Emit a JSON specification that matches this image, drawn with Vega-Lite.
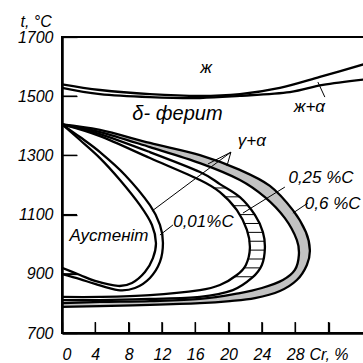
{
  "$schema": "https://vega.github.io/schema/vega-lite/v6.json",
  "width": 304,
  "height": 296,
  "autosize": {"type": "none"},
  "padding": {"left": 62, "top": 37, "right": 0, "bottom": 30},
  "background": "white",
  "config": {
    "view": {"stroke": "black", "strokeWidth": 2}
  },
  "datasets": {
    "curves": [
      {"c": "Lu", "i": 0, "x": 0, "t": 1540}, {"c": "Lu", "i": 1, "x": 4.56, "t": 1521}, {"c": "Lu", "i": 2, "x": 10.56, "t": 1507}, {"c": "Lu", "i": 3, "x": 16.56, "t": 1501}, {"c": "Lu", "i": 4, "x": 21.36, "t": 1507}, {"c": "Lu", "i": 5, "x": 26.16, "t": 1528}, {"c": "Lu", "i": 6, "x": 30.96, "t": 1565}, {"c": "Lu", "i": 7, "x": 36.5, "t": 1610},
      {"c": "Ls", "i": 0, "x": 0, "t": 1528}, {"c": "Ls", "i": 1, "x": 4.56, "t": 1507}, {"c": "Ls", "i": 2, "x": 10.56, "t": 1497}, {"c": "Ls", "i": 3, "x": 16.56, "t": 1494}, {"c": "Ls", "i": 4, "x": 21.36, "t": 1501}, {"c": "Ls", "i": 5, "x": 27.36, "t": 1514}, {"c": "Ls", "i": 6, "x": 31.32, "t": 1538}, {"c": "Ls", "i": 7, "x": 36.5, "t": 1557},
      {"c": "Ai", "i": 0, "x": 0, "t": 1405}, {"c": "Ai", "i": 1, "x": 2.16, "t": 1352}, {"c": "Ai", "i": 2, "x": 4.56, "t": 1291}, {"c": "Ai", "i": 3, "x": 6.96, "t": 1217}, {"c": "Ai", "i": 4, "x": 9.36, "t": 1132}, {"c": "Ai", "i": 5, "x": 10.8, "t": 1065}, {"c": "Ai", "i": 6, "x": 11.28, "t": 1004}, {"c": "Ai", "i": 7, "x": 10.92, "t": 953}, {"c": "Ai", "i": 8, "x": 9.96, "t": 906}, {"c": "Ai", "i": 9, "x": 8.4, "t": 869}, {"c": "Ai", "i": 10, "x": 6.72, "t": 859}, {"c": "Ai", "i": 11, "x": 3.96, "t": 876}, {"c": "Ai", "i": 12, "x": 2.16, "t": 896}, {"c": "Ai", "i": 13, "x": 0, "t": 920},
      {"c": "Ao", "i": 0, "x": 0, "t": 1405}, {"c": "Ao", "i": 1, "x": 2.16, "t": 1362}, {"c": "Ao", "i": 2, "x": 4.56, "t": 1311}, {"c": "Ao", "i": 3, "x": 7.56, "t": 1234}, {"c": "Ao", "i": 4, "x": 10.56, "t": 1132}, {"c": "Ao", "i": 5, "x": 11.76, "t": 1065}, {"c": "Ao", "i": 6, "x": 12.12, "t": 1004}, {"c": "Ao", "i": 7, "x": 11.76, "t": 940}, {"c": "Ao", "i": 8, "x": 10.56, "t": 886}, {"c": "Ao", "i": 9, "x": 8.76, "t": 852}, {"c": "Ao", "i": 10, "x": 6.72, "t": 845}, {"c": "Ao", "i": 11, "x": 3.96, "t": 866}, {"c": "Ao", "i": 12, "x": 2.16, "t": 882}, {"c": "Ao", "i": 13, "x": 0, "t": 899},
      {"c": "Bi", "i": 0, "x": 0, "t": 1405}, {"c": "Bi", "i": 1, "x": 4.56, "t": 1365}, {"c": "Bi", "i": 2, "x": 10.56, "t": 1291}, {"c": "Bi", "i": 3, "x": 16.56, "t": 1217}, {"c": "Bi", "i": 4, "x": 18.96, "t": 1176}, {"c": "Bi", "i": 5, "x": 21, "t": 1115}, {"c": "Bi", "i": 6, "x": 22.2, "t": 1048}, {"c": "Bi", "i": 7, "x": 22.56, "t": 987}, {"c": "Bi", "i": 8, "x": 22.08, "t": 930}, {"c": "Bi", "i": 9, "x": 21, "t": 896}, {"c": "Bi", "i": 10, "x": 18.96, "t": 862}, {"c": "Bi", "i": 11, "x": 16.56, "t": 845}, {"c": "Bi", "i": 12, "x": 10.56, "t": 828}, {"c": "Bi", "i": 13, "x": 4.56, "t": 822}, {"c": "Bi", "i": 14, "x": 0, "t": 822},
      {"c": "Bo", "i": 0, "x": 0, "t": 1405}, {"c": "Bo", "i": 1, "x": 4.56, "t": 1372}, {"c": "Bo", "i": 2, "x": 10.56, "t": 1311}, {"c": "Bo", "i": 3, "x": 16.56, "t": 1244}, {"c": "Bo", "i": 4, "x": 18.96, "t": 1203}, {"c": "Bo", "i": 5, "x": 21.36, "t": 1159}, {"c": "Bo", "i": 6, "x": 23.16, "t": 1099}, {"c": "Bo", "i": 7, "x": 24.12, "t": 1041}, {"c": "Bo", "i": 8, "x": 24.36, "t": 987}, {"c": "Bo", "i": 9, "x": 24, "t": 930}, {"c": "Bo", "i": 10, "x": 22.8, "t": 886}, {"c": "Bo", "i": 11, "x": 20.52, "t": 845}, {"c": "Bo", "i": 12, "x": 16.56, "t": 822}, {"c": "Bo", "i": 13, "x": 10.56, "t": 815}, {"c": "Bo", "i": 14, "x": 4.56, "t": 811}, {"c": "Bo", "i": 15, "x": 0, "t": 811},
      {"c": "Ci", "i": 0, "x": 0, "t": 1405}, {"c": "Ci", "i": 1, "x": 4.56, "t": 1379}, {"c": "Ci", "i": 2, "x": 10.56, "t": 1328}, {"c": "Ci", "i": 3, "x": 16.56, "t": 1274}, {"c": "Ci", "i": 4, "x": 21.36, "t": 1217}, {"c": "Ci", "i": 5, "x": 24.36, "t": 1159}, {"c": "Ci", "i": 6, "x": 26.76, "t": 1088}, {"c": "Ci", "i": 7, "x": 28.2, "t": 1014}, {"c": "Ci", "i": 8, "x": 28.44, "t": 963}, {"c": "Ci", "i": 9, "x": 27.96, "t": 913}, {"c": "Ci", "i": 10, "x": 26.52, "t": 879}, {"c": "Ci", "i": 11, "x": 24, "t": 852}, {"c": "Ci", "i": 12, "x": 21.36, "t": 835}, {"c": "Ci", "i": 13, "x": 16.56, "t": 815}, {"c": "Ci", "i": 14, "x": 10.56, "t": 808}, {"c": "Ci", "i": 15, "x": 4.56, "t": 805}, {"c": "Ci", "i": 16, "x": 0, "t": 801},
      {"c": "Co", "i": 0, "x": 0, "t": 1405}, {"c": "Co", "i": 1, "x": 4.56, "t": 1386}, {"c": "Co", "i": 2, "x": 10.56, "t": 1342}, {"c": "Co", "i": 3, "x": 16.56, "t": 1301}, {"c": "Co", "i": 4, "x": 21.36, "t": 1251}, {"c": "Co", "i": 5, "x": 24.96, "t": 1197}, {"c": "Co", "i": 6, "x": 27.72, "t": 1115}, {"c": "Co", "i": 7, "x": 29.28, "t": 1041}, {"c": "Co", "i": 8, "x": 29.76, "t": 980}, {"c": "Co", "i": 9, "x": 29.4, "t": 930}, {"c": "Co", "i": 10, "x": 28.2, "t": 879}, {"c": "Co", "i": 11, "x": 26.16, "t": 842}, {"c": "Co", "i": 12, "x": 23.16, "t": 818}, {"c": "Co", "i": 13, "x": 20.16, "t": 808}, {"c": "Co", "i": 14, "x": 16.56, "t": 801}, {"c": "Co", "i": 15, "x": 10.56, "t": 795}, {"c": "Co", "i": 16, "x": 4.56, "t": 791}, {"c": "Co", "i": 17, "x": 0, "t": 788}
    ],
    "cband": [
      {"i": 0, "x": 0, "t": 1405}, {"i": 1, "x": 4.56, "t": 1386}, {"i": 2, "x": 10.56, "t": 1342}, {"i": 3, "x": 16.56, "t": 1301}, {"i": 4, "x": 21.36, "t": 1251}, {"i": 5, "x": 24.96, "t": 1197}, {"i": 6, "x": 27.72, "t": 1115}, {"i": 7, "x": 29.28, "t": 1041}, {"i": 8, "x": 29.76, "t": 980}, {"i": 9, "x": 29.4, "t": 930}, {"i": 10, "x": 28.2, "t": 879}, {"i": 11, "x": 26.16, "t": 842}, {"i": 12, "x": 23.16, "t": 818}, {"i": 13, "x": 20.16, "t": 808}, {"i": 14, "x": 16.56, "t": 801}, {"i": 15, "x": 10.56, "t": 795}, {"i": 16, "x": 4.56, "t": 791}, {"i": 17, "x": 0, "t": 788},
      {"i": 18, "x": 0, "t": 801}, {"i": 19, "x": 4.56, "t": 805}, {"i": 20, "x": 10.56, "t": 808}, {"i": 21, "x": 16.56, "t": 815}, {"i": 22, "x": 21.36, "t": 835}, {"i": 23, "x": 24, "t": 852}, {"i": 24, "x": 26.52, "t": 879}, {"i": 25, "x": 27.96, "t": 913}, {"i": 26, "x": 28.44, "t": 963}, {"i": 27, "x": 28.2, "t": 1014}, {"i": 28, "x": 26.76, "t": 1088}, {"i": 29, "x": 24.36, "t": 1159}, {"i": 30, "x": 21.36, "t": 1217}, {"i": 31, "x": 16.56, "t": 1274}, {"i": 32, "x": 10.56, "t": 1328}, {"i": 33, "x": 4.56, "t": 1379}
    ],
    "hatch": [
      {"t": 1190, "x": 18.14, "x2": 19.68}, {"t": 1160, "x": 19.5, "x2": 21.34}, {"t": 1130, "x": 20.5, "x2": 22.23}, {"t": 1100, "x": 21.27, "x2": 23.14}, {"t": 1070, "x": 21.8, "x2": 23.64}, {"t": 1040, "x": 22.25, "x2": 24.12}, {"t": 1010, "x": 22.42, "x2": 24.26}, {"t": 980, "x": 22.5, "x2": 24.35}, {"t": 950, "x": 22.39, "x2": 24.13}, {"t": 920, "x": 21.76, "x2": 23.73}, {"t": 890, "x": 20.64, "x2": 22.9}
    ],
    "leaders": [
      {"x": 20.28, "t": 1311, "x2": 10.8, "t2": 1112},
      {"x": 20.28, "t": 1311, "x2": 17.52, "t2": 1271},
      {"x": 20.28, "t": 1311, "x2": 19.8, "t2": 1264},
      {"x": 26.76, "t": 1193, "x2": 21.72, "t2": 1105},
      {"x": 29.52, "t": 1139, "x2": 27.72, "t2": 1105},
      {"x": 13.32, "t": 1065, "x2": 11.76, "t2": 1031},
      {"x": 30.72, "t": 1548, "x2": 31.56, "t2": 1497}
    ],
    "xticks": [
      {"x": 4, "t": 700}, {"x": 8, "t": 700}, {"x": 12, "t": 700}, {"x": 16, "t": 700}, {"x": 20, "t": 700}, {"x": 24, "t": 700}, {"x": 28, "t": 700}, {"x": 32, "t": 700}
    ],
    "yticks": [
      {"x": 0, "t": 900}, {"x": 0, "t": 1100}, {"x": 0, "t": 1300}, {"x": 0, "t": 1500}
    ],
    "labels": [
      {"text": "ж", "x": 17.3, "t": 1595},
      {"text": "ж+α", "x": 29.7, "t": 1463},
      {"text": "γ+α", "x": 22.8, "t": 1349},
      {"text": "0,25 %C", "x": 31.1, "t": 1224},
      {"text": "0,6 %C", "x": 32.5, "t": 1136},
      {"text": "0,01%C", "x": 16.98, "t": 1075},
      {"text": "Аустеніт", "x": 5.64, "t": 1028}
    ],
    "biglabels": [
      {"text": "δ- ферит", "x": 13.86, "t": 1440}
    ]
  },
  "encoding": {
    "x": {"field": "x", "type": "quantitative", "scale": {"domain": [0, 36.5], "nice": false, "zero": false},
      "axis": {"values": [0, 4, 8, 12, 16, 20, 24, 28, 32], "labelExpr": "datum.value == 32 ? '\u00a0\u00a0Cr, %' : datum.label", "title": null, "grid": false, "tickSize": -11, "tickColor": "black", "tickWidth": 1.3, "domainColor": "black", "domainWidth": 2.5, "labelPadding": 24, "labelFontSize": 16, "labelFontStyle": "italic", "labelColor": "black", "labelFont": "Liberation Sans", "labelOverlap": false, "zindex": 1}},
    "y": {"field": "t", "type": "quantitative", "scale": {"domain": [700, 1700], "nice": false, "zero": false},
      "axis": {"values": [700, 900, 1100, 1300, 1500, 1700], "format": "d", "title": "t, °C", "titleAngle": 0, "titleAlign": "left", "titleBaseline": "alphabetic", "titleX": -42, "titleY": -11, "titleFontSize": 16, "titleFontStyle": "italic", "titleFontWeight": "normal", "titleFont": "Liberation Sans", "titleColor": "black", "grid": false, "tickSize": -15, "tickColor": "black", "tickWidth": 1.3, "domainColor": "black", "domainWidth": 2.5, "labelPadding": 24, "labelFontSize": 16, "labelFontStyle": "italic", "labelColor": "black", "labelFont": "Liberation Sans", "labelOverlap": false, "zindex": 1}}
  },
  "layer": [
    {
      "data": {"name": "cband"},
      "mark": {"type": "line", "fill": "#c2c2c2", "strokeWidth": 0, "interpolate": "cardinal", "clip": true},
      "encoding": {"order": {"field": "i", "type": "quantitative"}}
    },
    {
      "data": {"name": "hatch"},
      "mark": {"type": "rule", "color": "black", "strokeWidth": 1},
      "encoding": {"x2": {"field": "x2"}}
    },
    {
      "data": {"name": "curves"},
      "mark": {"type": "line", "color": "black", "strokeWidth": 2.3, "interpolate": "cardinal", "clip": true},
      "encoding": {
        "detail": {"field": "c", "type": "nominal"},
        "order": {"field": "i", "type": "quantitative"}
      }
    },
    {
      "data": {"name": "leaders"},
      "mark": {"type": "rule", "color": "black", "strokeWidth": 1},
      "encoding": {"x2": {"field": "x2"}, "y2": {"field": "t2"}}
    },
    {
      "data": {"name": "xticks"},
      "mark": {"type": "tick", "orient": "vertical", "color": "black", "size": 11, "thickness": 1.3, "yOffset": -5.5, "opacity": 1}
    },
    {
      "data": {"name": "yticks"},
      "mark": {"type": "tick", "orient": "horizontal", "color": "black", "size": 15, "thickness": 1.3, "xOffset": 7.5, "opacity": 1}
    },
    {
      "data": {"name": "labels"},
      "mark": {"type": "text", "font": "Liberation Sans", "fontStyle": "italic", "fontSize": 17, "color": "black", "align": "center", "baseline": "middle"},
      "encoding": {"text": {"field": "text", "type": "nominal"}}
    },
    {
      "data": {"name": "biglabels"},
      "mark": {"type": "text", "font": "Liberation Sans", "fontStyle": "italic", "fontSize": 20, "color": "black", "align": "center", "baseline": "middle"},
      "encoding": {"text": {"field": "text", "type": "nominal"}}
    }
  ]
}
